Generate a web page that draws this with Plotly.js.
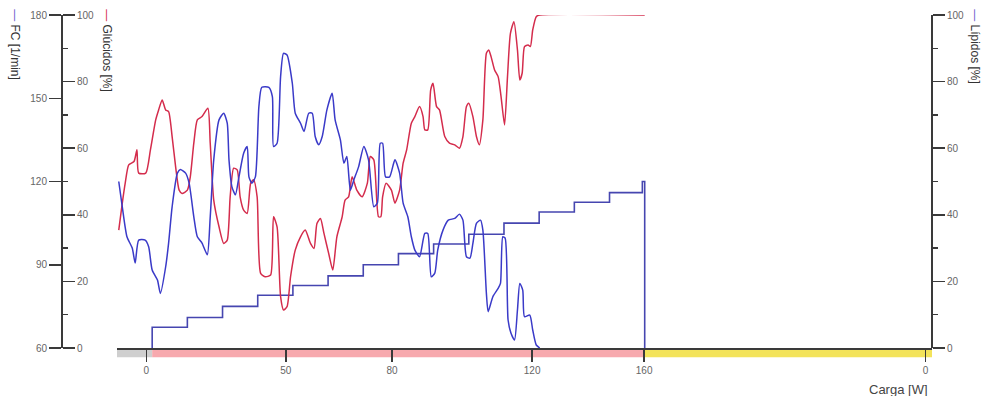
<!DOCTYPE html>
<html>
<head>
<meta charset="utf-8">
<script src="https://cdn.plot.ly/plotly-3.0.1.min.js"></script>
<style>html,body{margin:0;padding:0;background:#fff;}#chart{width:984px;height:396px;}</style>
</head>
<body>
<div id="chart"></div>
<script>
// time in seconds from start of the exercise
const glucTime = [-57,-51,-46,-40,-31,-26,-23,-11,-3,6,11,17,23,28,34,40,46,51,60,65,71,77,85,95,99,105,114,122,128,133,139,145,150,156,162,168,173,179,185,193,202,207,213,219,224,230,236,244,253,261,270,276,281,287,293,301,308,315,324,329,335,341,349,358,367,372,378,386,390,393,399,408,414,422,428,434,442,448,456,462,465,470,475,479,485,490,499,507,516,524,530,536,540,547,553,558,564,570,574,578,584,590,595,601,606,611,617,623,627,631,635,641,645,649,655,661,840];
const glucVals = [35.4,43.5,49.5,55,56,59.5,52.5,52.5,59.5,68.5,71.5,74.5,71.5,71,63.5,54.4,47.4,46.4,47.4,51.4,61.5,68.5,69.5,72,61.5,44.4,36.4,31.4,32.4,45.4,54,53.5,45.4,41.4,40.4,49.5,50.5,45.4,22.4,21.4,21.9,39.4,36.4,15.4,11.4,12.4,21.4,29.4,33.4,35.4,31.4,29.9,37.4,38.9,34.4,28.4,23.4,33.4,39.4,44.4,45.4,51.4,47.4,45.4,49.5,57.5,56.5,39.4,39.4,45.4,49.5,47.4,43.5,47.4,55.5,59.5,67.5,69.5,72.5,69.5,65.5,65.5,77.5,79.5,72.5,71.5,63.5,61.5,61,60,63.5,72.5,73.5,69.5,63.5,61,68.5,88.5,89.5,87.5,83.5,81.5,75.5,67,81.5,94.5,98,89.5,80.5,82.5,90.5,91,90.5,95.5,99.5,100,100];

const lipTime = [-57,-51,-43,-34,-29,-23,-12,-6,0,9,14,23,28,34,43,48,57,63,71,77,85,94,99,105,114,122,128,131,136,142,148,156,162,165,170,176,182,187,199,205,207,213,219,224,230,239,244,253,259,267,273,278,284,290,298,307,312,321,327,332,338,344,352,361,369,378,384,389,393,398,405,414,422,428,436,442,448,456,465,470,476,482,487,496,505,516,524,530,536,542,547,553,560,564,570,573,581,590,594,598,602,607,612,618,623,627,632,635,644,649,655,661];
const lipVals = [50,42.4,33.4,30,25.5,32.4,32.4,30.4,23.4,20.4,16.4,24.4,31.5,42.4,52.5,53.6,52.5,49.5,39.4,33.4,31.5,28,39.4,56.5,68.5,70.5,67.5,56.5,48.4,46,51.4,58.5,60.5,51.4,49.5,51.4,72.5,78.3,78.3,75.5,60.5,61.5,81.5,88.5,88,79.5,70.5,67.5,65,70.5,70.5,63.5,61,63.5,71.5,76.5,68.5,62.5,55.5,57.5,47.4,50.5,54.4,60.5,56.5,42.4,43.5,61.5,61.5,51.4,51.4,56.5,52.5,43.5,39.4,33.4,29.4,27.4,34.4,34.4,21.4,22.5,29.4,35.4,38.4,38.9,40.2,38.4,27.4,27,31.4,37.4,38.4,35.4,16.4,10.9,15.4,17.9,19.4,33.4,33,8.4,4.4,2.4,11.4,19.4,17.4,9.4,9.9,5.4,0.9,0];

const fcTime = [0,0,60,120,180,240,300,360,420,480,540,600,660,720,780,836,840];
const fcVals = [60,67.5,71,75,79,82.5,86,90,94,97.5,101,105,109,112.5,116,120,60];

const xTickVals = [-10,228,409,648,839,1319];
const xTickText = ['0','50','80','120','160','0'];

const phaseStart = [-60,0,840];
const phaseEnd = [0,840,1330];
const phaseColors = ['#cfcfcf','#f7a9ae','#f3e35a'];

const FONT = '"Liberation Sans", Arial, sans-serif';
const AX = '#3a3a3a';
const LBL = '#666';

const traces = [
  {x: fcTime, y: fcVals, yaxis: 'y', type: 'scatter', mode: 'lines', line: {color: '#4646b0', width: 1.6, shape: 'hv'}, hoverinfo: 'skip'},
  {x: glucTime, y: glucVals, yaxis: 'y2', type: 'scatter', mode: 'lines', line: {color: '#d42c4c', width: 1.5, shape: 'spline', smoothing: 0.6}, hoverinfo: 'skip'},
  {x: lipTime, y: lipVals, yaxis: 'y3', type: 'scatter', mode: 'lines', line: {color: '#3a3ac8', width: 1.5, shape: 'spline', smoothing: 0.6}, hoverinfo: 'skip'}
];

const pl = 10, pr = 52, W = 984;
const pw = W - pl - pr;
const px = v => (v - pl) / pw;

const shapes = phaseStart.map((s, i) => ({
  type: 'rect', xref: 'x', yref: 'paper', x0: s, x1: phaseEnd[i], y0: -0.028, y1: -0.002,
  fillcolor: phaseColors[i], line: {width: 0}, layer: 'below'
}));

const yCommon = {
  showgrid: false, zeroline: false, showline: true, linecolor: AX, linewidth: 2,
  ticks: 'outside', tickcolor: AX, tickwidth: 1.5, ticklen: 12,
  tickfont: {family: FONT, size: 10, color: LBL}, fixedrange: true
};

const layout = {
  width: 984, height: 396,
  margin: {l: pl, r: pr, t: 15, b: 48, pad: 0},
  paper_bgcolor: '#fff', plot_bgcolor: '#fff',
  showlegend: false,
  font: {family: FONT},
  xaxis: {
    domain: [px(117), 1], range: [-60, 1330],
    showgrid: false, zeroline: false, showline: true, linecolor: AX, linewidth: 2,
    tickmode: 'array', tickvals: xTickVals, ticktext: xTickText,
    ticks: 'outside', tickcolor: AX, tickwidth: 1.5, ticklen: 12,
    tickfont: {family: FONT, size: 10, color: LBL}
  },
  yaxis: Object.assign({}, yCommon, {
    range: [60, 180], dtick: 30, tick0: 60, anchor: 'free', position: px(62), side: 'left'
  }),
  yaxis2: Object.assign({}, yCommon, {
    range: [0, 100], dtick: 20, tick0: 0, anchor: 'free', position: px(62), side: 'right', overlaying: 'y',
    minor: {dtick: 10, ticklen: 5, tickcolor: AX, tickwidth: 1.5, ticks: 'outside'}
  }),
  yaxis3: Object.assign({}, yCommon, {
    range: [0, 100], dtick: 20, tick0: 0, anchor: 'free', position: 1, side: 'right', overlaying: 'y',
    minor: {dtick: 10, ticklen: 5, tickcolor: AX, tickwidth: 1.5, ticks: 'outside'}
  }),
  shapes: shapes,
  annotations: [
    {xref: 'paper', yref: 'paper', x: px(15), y: 1.025, xanchor: 'center', yanchor: 'top', textangle: 90, showarrow: false,
     text: '<span style="color:#6a5acd">—</span> FC [1/min]', font: {family: FONT, size: 12, color: '#333'}},
    {xref: 'paper', yref: 'paper', x: px(107), y: 1.025, xanchor: 'center', yanchor: 'top', textangle: 90, showarrow: false,
     text: '<span style="color:#d42c4c">—</span> Glúcidos [%]', font: {family: FONT, size: 12, color: '#333'}},
    {xref: 'paper', yref: 'paper', x: px(975), y: 1.025, xanchor: 'center', yanchor: 'top', textangle: 90, showarrow: false,
     text: '<span style="color:#6a5acd">—</span> Lípidos [%]', font: {family: FONT, size: 12, color: '#333'}},
    {xref: 'paper', yref: 'paper', x: px(930), y: -0.095, xanchor: 'right', yanchor: 'top', showarrow: false,
     text: 'Carga [W]', font: {family: FONT, size: 13, color: '#444'}}
  ]
};

Plotly.newPlot('chart', traces, layout, {staticPlot: true, displayModeBar: false});
</script>
</body>
</html>
